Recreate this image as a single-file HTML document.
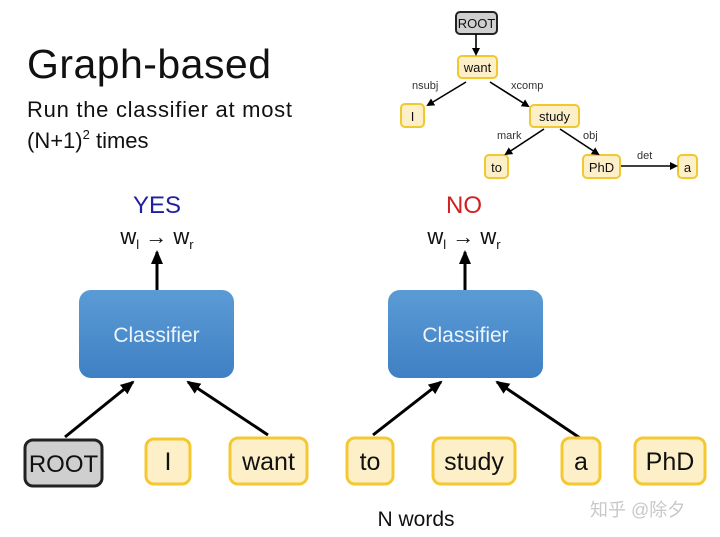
<!DOCTYPE html>
<html><head><meta charset="utf-8"><style>
html,body{margin:0;padding:0;background:#fff}
svg{display:block;font-family:"Liberation Sans","Noto Sans CJK SC",sans-serif}
</style></head><body>
<svg width="720" height="537" viewBox="0 0 720 537">
<defs>
<marker id="a" markerWidth="8" markerHeight="8" refX="6" refY="4" orient="auto" markerUnits="userSpaceOnUse"><path d="M0,0 L8,4 L0,8 z" fill="#000"/></marker>
<marker id="b" markerWidth="14" markerHeight="12" refX="12" refY="6" orient="auto" markerUnits="userSpaceOnUse"><path d="M0,0 L14,6 L0,12 z" fill="#000"/></marker>
<linearGradient id="g" x1="0" y1="0" x2="0" y2="1"><stop offset="0" stop-color="#5b9bd5"/><stop offset="1" stop-color="#3f80c4"/></linearGradient>
</defs>
<text x="27" y="78" font-size="41" fill="#111" textLength="244">Graph-based</text>
<text x="27" y="117" font-size="22" fill="#111" textLength="265">Run the classifier at most</text>
<text x="27" y="148" font-size="22" fill="#111">(N+1)<tspan font-size="13" dy="-9">2</tspan><tspan dy="9"> times</tspan></text>

<!-- mini tree -->
<g font-size="13" fill="#111">
<rect x="456" y="12" width="41" height="22" rx="4" fill="#d0d0d0" stroke="#222" stroke-width="2"/><text x="476.5" y="28" text-anchor="middle">ROOT</text>
<g fill="#fdf0c8" stroke="#f0c830" stroke-width="2">
<rect x="458" y="56" width="39" height="22" rx="4"/><rect x="401" y="104" width="23" height="23" rx="4"/>
<rect x="530" y="105" width="49" height="22" rx="4"/><rect x="485" y="155" width="23" height="23" rx="4"/>
<rect x="583" y="155" width="37" height="23" rx="4"/><rect x="678" y="155" width="19" height="23" rx="4"/>
</g>
<text x="477.5" y="72" text-anchor="middle">want</text><text x="412.5" y="121" text-anchor="middle">I</text>
<text x="554.5" y="121" text-anchor="middle">study</text><text x="496.5" y="172" text-anchor="middle">to</text>
<text x="601.5" y="172" text-anchor="middle">PhD</text><text x="687.5" y="172" text-anchor="middle">a</text>
<g stroke="#000" stroke-width="1.6" marker-end="url(#a)">
<line x1="476" y1="34" x2="476" y2="54"/><line x1="466" y1="82" x2="428" y2="105"/>
<line x1="490" y1="82" x2="528" y2="106"/><line x1="544" y1="129" x2="506" y2="154"/>
<line x1="560" y1="129" x2="598" y2="154"/><line x1="621" y1="166" x2="676" y2="166"/>
</g>
<g font-size="11" fill="#333"><text x="412" y="89">nsubj</text><text x="511" y="89">xcomp</text>
<text x="497" y="139">mark</text><text x="583" y="139">obj</text><text x="637" y="159">det</text></g>
</g>

<!-- YES / NO -->
<text x="157" y="213" font-size="24" fill="#1f1fa0" text-anchor="middle">YES</text>
<text x="464" y="213" font-size="24" fill="#d02020" text-anchor="middle">NO</text>
<text x="157" y="244" font-size="22" fill="#111" text-anchor="middle">w<tspan font-size="13" dy="5">l</tspan><tspan dy="-5"> → w</tspan><tspan font-size="13" dy="5">r</tspan></text>
<text x="464" y="244" font-size="22" fill="#111" text-anchor="middle">w<tspan font-size="13" dy="5">l</tspan><tspan dy="-5"> → w</tspan><tspan font-size="13" dy="5">r</tspan></text>
<g stroke="#000" stroke-width="3" marker-end="url(#b)">
<line x1="157" y1="290" x2="157" y2="252"/><line x1="465" y1="290" x2="465" y2="252"/>
<line x1="65" y1="437" x2="133" y2="382"/><line x1="268" y1="435" x2="188" y2="382"/>
<line x1="373" y1="435" x2="441" y2="382"/><line x1="580" y1="438" x2="497" y2="382"/>
</g>
<rect x="79" y="290" width="155" height="88" rx="12" fill="url(#g)"/>
<rect x="388" y="290" width="155" height="88" rx="12" fill="url(#g)"/>
<text x="156.5" y="342" font-size="21" fill="#eef4fb" text-anchor="middle">Classifier</text>
<text x="465.5" y="342" font-size="21" fill="#eef4fb" text-anchor="middle">Classifier</text>

<!-- bottom words -->
<g font-size="25" fill="#111">
<rect x="25" y="440" width="77" height="46" rx="8" fill="#cfcfcf" stroke="#222" stroke-width="3"/>
<g fill="#fdf0c8" stroke="#f5c832" stroke-width="3">
<rect x="146" y="439" width="44" height="45" rx="8"/><rect x="230" y="438" width="77" height="46" rx="8"/>
<rect x="347" y="438" width="46" height="46" rx="8"/><rect x="433" y="438" width="82" height="46" rx="8"/>
<rect x="562" y="438" width="38" height="46" rx="8"/><rect x="635" y="438" width="70" height="46" rx="8"/>
</g>
<text x="63.5" y="472" text-anchor="middle" font-size="24">ROOT</text>
<text x="168" y="470" text-anchor="middle">I</text><text x="268.5" y="470" text-anchor="middle">want</text>
<text x="370" y="470" text-anchor="middle">to</text><text x="474" y="470" text-anchor="middle">study</text>
<text x="581" y="470" text-anchor="middle">a</text><text x="670" y="470" text-anchor="middle">PhD</text>
</g>
<text x="416" y="526" font-size="21" fill="#111" text-anchor="middle">N words</text>
<text x="590" y="516" font-size="18" fill="#c8c8c8">知乎 @除夕</text>
</svg>
</body></html>
